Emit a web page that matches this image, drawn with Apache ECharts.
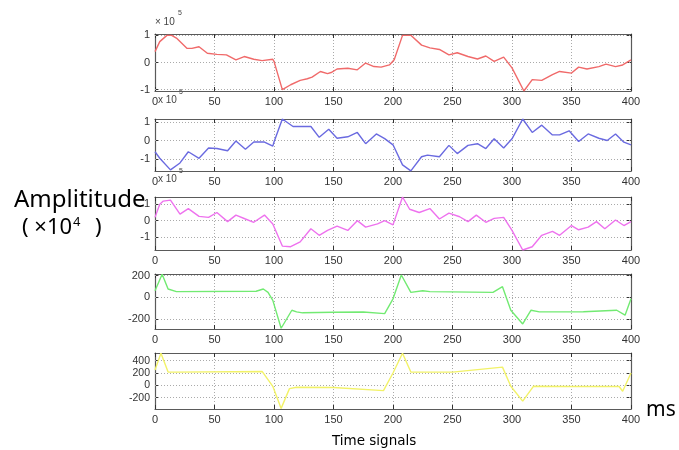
<!DOCTYPE html>
<html><head><meta charset="utf-8">
<script src="https://cdn.jsdelivr.net/npm/echarts@6/dist/echarts.min.js"></script>
<style>html,body{margin:0;padding:0;background:#fff}#c{width:679px;height:450px}</style>
</head><body><div id="c"></div>
<script>
// Time axis (ms)
const timeTicks = [0, 50, 100, 150, 200, 250, 300, 350, 400];

// Panel 1 (red), units of 1e5
const redT = [0,4,10,14,18,27,31,37,44,52,60,68,75,83,90,99,100,107,114,122,128,132,139,145,148,153,162,170,177,184,190,197,201,208,215,224,231,239,247,254,263,271,278,285,293,300,310,317,325,334,340,350,356,363,373,379,387,393,400];
const redA = [0.4,0.77,1.0,1.0,0.9,0.52,0.52,0.58,0.34,0.3,0.28,0.1,0.22,0.12,0.07,0.12,0.04,-1.0,-0.82,-0.66,-0.6,-0.54,-0.33,-0.41,-0.37,-0.24,-0.21,-0.27,-0.02,-0.15,-0.17,-0.09,0.1,1.0,1.0,0.64,0.54,0.48,0.28,0.36,0.22,0.13,0.24,0.04,0.2,-0.2,-1.05,-0.63,-0.66,-0.45,-0.33,-0.39,-0.17,-0.24,-0.15,-0.06,-0.15,-0.09,0.1];

// Panel 2 (blue), units of 1e5
const blueT = [0,4,13,21,28,37,45,52,61,68,76,83,92,99,100,107,116,131,138,146,153,162,170,177,186,193,200,208,215,224,229,239,247,254,263,271,278,285,293,300,309,317,325,334,340,348,356,364,373,380,387,394,400];
const blueA = [-0.6,-0.95,-1.57,-1.2,-0.6,-0.95,-0.4,-0.43,-0.55,-0.03,-0.47,-0.08,-0.08,-0.3,-0.08,1.15,0.75,0.75,0.17,0.6,0.12,0.2,0.43,-0.17,0.35,0.1,-0.23,-1.3,-1.62,-0.87,-0.78,-0.87,-0.26,-0.7,-0.26,-0.17,-0.43,0.09,-0.4,0.09,1.15,0.43,0.82,0.3,0.3,0.52,-0.05,0.35,0.12,0,0.35,-0.09,-0.23];

// Panel 3 (magenta), units of 1e5
const magT = [0,4,7,13,21,28,37,45,52,61,68,76,83,92,99,107,114,122,131,138,145,153,162,170,177,187,193,200,208,214,222,231,239,247,256,263,270,278,285,293,300,309,317,325,334,340,350,356,364,371,378,387,394,400];
const magA = [0.2,1.0,1.2,1.26,0.4,0.74,0.26,0.2,0.5,-0.06,0.34,0.1,-0.1,0.34,-0.2,-1.56,-1.6,-1.3,-0.5,-0.9,-0.6,-0.34,-0.6,0,-0.4,-0.2,0,-0.26,1.45,0.7,0.5,0.74,0.1,0.46,0.24,-0.06,0.34,-0.1,0.14,0.2,-0.6,-1.8,-1.6,-0.9,-0.66,-0.9,-0.3,-0.56,-0.4,-0.06,-0.5,0.04,-0.3,-0.06];

// Panel 4 (green)
const greenT = [0,6,11,18,85,91,95,99,106,115,119,124,150,175,193,200,207,215,225,231,284,292,299,309,316,323,360,388,395,400];
const greenA = [60,212,76,52,55,76,45,-30,-288,-121,-136,-145,-140,-138,-152,-15,206,45,60,52,45,97,-121,-248,-121,-136,-135,-121,-167,-15];

// Panel 5 (yellow)
const yellowT = [0,5,11,18,90,99,106,113,119,150,192,200,208,215,250,292,299,309,318,350,390,393,400];
const yellowA = [250,520,215,215,225,-16,-375,-54,-32,-35,-86,200,520,215,215,295,-16,-257,-16,-20,-20,-97,200];

// Y tick labels per panel
const ticks1 = [-1, 0, 1];
const ticks2 = [-1, 0, 1];
const ticks3 = [-1, 0, 1];
const ticks4 = [-200, 0, 200];
const ticks5 = [-200, 0, 200, 400];

const panels = [
  {t: redT, a: redA, color: '#f06a6a', min: -1.05, max: 1.05, ticks: ticks1, top: 34, h: 57},
  {t: blueT, a: blueA, color: '#6a6ae0', min: -1.63, max: 1.15, ticks: ticks2, top: 119, h: 52},
  {t: magT, a: magA, color: '#ee72ee', min: -1.8, max: 1.45, ticks: ticks3, top: 197, h: 53},
  {t: greenT, a: greenA, color: '#72ea72', min: -295, max: 215, ticks: ticks4, top: 274, h: 55},
  {t: yellowT, a: yellowA, color: '#f2f268', min: -385, max: 525, ticks: ticks5, top: 353, h: 56}
];

const lblFont = 'Liberation Sans';
const boxLine = {show: true, onZero: false, lineStyle: {color: '#5a5a5a', width: 1.2}};
const dotted = {color: '#aaa', width: 1, type: [1, 2]};
const tickStyle = {inside: true, length: 4, lineStyle: {color: '#333'}};

const grid = [], xAxis = [], yAxis = [], series = [];
panels.forEach((p, i) => {
  grid.push({left: 155, width: 476, top: p.top, height: p.h, show: false});
  xAxis.push({gridIndex: i, type: 'value', min: timeTicks[0], max: timeTicks[timeTicks.length - 1], interval: 50,
    position: 'bottom', axisLine: boxLine, axisTick: tickStyle,
    axisLabel: {color: '#333', fontSize: 11, fontFamily: lblFont, margin: 5},
    splitLine: {show: true, lineStyle: dotted}});
  yAxis.push({gridIndex: i, type: 'value', min: p.min, max: p.max, position: 'left',
    axisLine: boxLine, axisTick: Object.assign({customValues: p.ticks}, tickStyle),
    axisLabel: {color: '#333', fontSize: i === 4 ? 10.5 : 11, fontFamily: lblFont, margin: 5, customValues: p.ticks},
    splitLine: {show: false}});
  series.push({type: 'line', xAxisIndex: i, yAxisIndex: i, data: p.t.map((v, k) => [v, p.a[k]]),
    showSymbol: false, symbol: 'none', lineStyle: {color: p.color, width: 1.4}, itemStyle: {color: p.color},
    animation: false, clip: true, z: 3,
    markLine: {silent: true, symbol: 'none', animation: false, label: {show: false},
      lineStyle: dotted, emphasis: {disabled: true}, z: 1,
      data: p.ticks.map(v => ({yAxis: v}))}});
});
panels.forEach((p, i) => {
  xAxis.push({gridIndex: i, type: 'value', min: 0, max: 400, interval: 50, position: 'top',
    axisLine: boxLine, axisTick: tickStyle, axisLabel: {show: false}, splitLine: {show: false}});
  yAxis.push({gridIndex: i, type: 'value', min: p.min, max: p.max, position: 'right',
    axisLine: boxLine, axisTick: Object.assign({customValues: p.ticks}, tickStyle),
    axisLabel: {show: false, customValues: p.ticks}, splitLine: {show: false}});
});

const expStyle = {fill: '#444', fontSize: 10, fontFamily: lblFont};
const supStyle = {fill: '#444', fontSize: 7, fontFamily: lblFont};
const graphic = [
  {type: 'text', left: 155, top: 17, style: Object.assign({text: '× 10'}, expStyle)},
  {type: 'text', left: 178, top: 10, style: Object.assign({text: '5'}, supStyle)},
  {type: 'text', left: 158, top: 95, style: Object.assign({text: 'x 10'}, expStyle)},
  {type: 'text', left: 179, top: 89, style: Object.assign({text: '5'}, supStyle)},
  {type: 'text', left: 158, top: 174, style: Object.assign({text: 'x 10'}, expStyle)},
  {type: 'text', left: 179, top: 168, style: Object.assign({text: '5'}, supStyle)},
  {type: 'text', left: 14, top: 188, style: {text: 'Amplititude', fill: '#000', fontSize: 24, fontFamily: 'Noto Sans'}},
  {type: 'text', left: 22, top: 217, style: {text: '( ×10', fill: '#000', fontSize: 22, fontFamily: 'Noto Sans'}},
  {type: 'text', left: 73, top: 216, style: {text: '4', fill: '#000', fontSize: 13, fontFamily: 'Noto Sans'}},
  {type: 'text', left: 95, top: 217, style: {text: ')', fill: '#000', fontSize: 22, fontFamily: 'Noto Sans'}},
  {type: 'text', left: 646, top: 400, style: {text: 'ms', fill: '#000', fontSize: 21, fontFamily: 'Noto Sans'}},
  {type: 'text', left: 332, top: 434, style: {text: 'Time signals', fill: '#000', fontSize: 13.5, fontFamily: 'DejaVu Sans'}}
];

const chart = echarts.init(document.getElementById('c'), null, {renderer: 'canvas'});
chart.setOption({backgroundColor: '#fff', animation: false, grid, xAxis, yAxis, series, graphic});
</script>
</body></html>
